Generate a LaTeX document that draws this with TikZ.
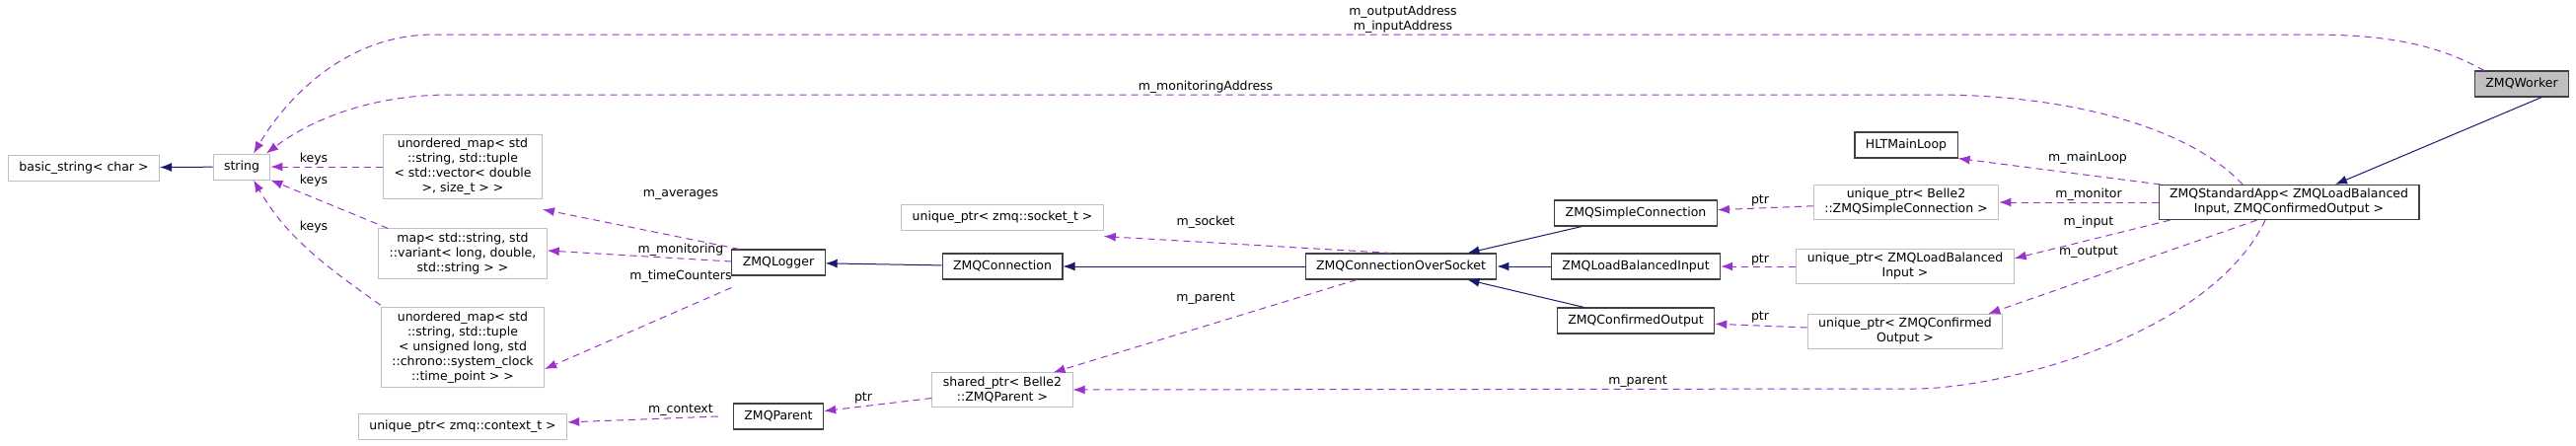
\documentclass[tikz,border=0pt]{standalone}
\usepackage{fontspec}
\setmainfont{DejaVu Sans}
\usetikzlibrary{arrows.meta, positioning}
\definecolor{inhcol}{HTML}{191970}
\definecolor{usecol}{HTML}{9A32CD}
\definecolor{extcol}{HTML}{BFBFBF}
\tikzset{
	x=1pt, y=-1pt,
	every node/.style={font=\fontsize{12.5}{15}\selectfont, inner xsep=11pt, inner ysep=4pt, minimum height=26pt, align=center},
	cls/.style={draw=black!75, line width=1.1pt, fill=white}, % documented classes
	ext/.style={draw=extcol, line width=1pt, fill=white}, % external types
	focus/.style={cls, fill=extcol}, % the class of the diagram
	lbl/.style={inner sep=0pt, minimum height=0pt}, % edge labels
	inh/.style={draw=inhcol, line width=1pt, -{Latex[length=12pt,width=9pt]}},
	use/.style={draw=usecol, line width=1pt, dash pattern=on 7pt off 5pt, -{Latex[length=12pt,width=9pt]}},
}
\begin{document}
\begin{tikzpicture}
	\useasboundingbox (0,0) rectangle (2611,451);

	% left column
	\node[ext] (bstr) at (85,170) {basic\_string< char >};
	\node[ext] (str) at (245,169) {string};
	\node[ext] (avg) at (469,169) {unordered\_map< std\\::string, std::tuple\\< std::vector< double\\>, size\_t > >};
	\node[ext] (mon) at (469,257) {map< std::string, std\\::variant< long, double,\\std::string > >};
	\node[ext] (tc) at (469,352) {unordered\_map< std\\::string, std::tuple\\< unsigned long, std\\::chrono::system\_clock\\::time\_point > >};
	\node[ext] (ctx) at (469,432) {unique\_ptr< zmq::context\_t >};

	% middle
	\node[cls] (logger) at (789,266) {ZMQLogger};
	\node[cls] (parent) at (789,422) {ZMQParent};
	\node[ext] (sock) at (1016,220) {unique\_ptr< zmq::socket\_t >};
	\node[cls] (conn) at (1016,270) {ZMQConnection};
	\node[ext] (shptr) at (1016,395) {shared\_ptr< Belle2\\::ZMQParent >};
	\node[cls] (cos) at (1420,270) {ZMQConnectionOverSocket};

	% right
	\node[cls] (simple) at (1658,216) {ZMQSimpleConnection};
	\node[cls] (lbin) at (1658,270) {ZMQLoadBalancedInput};
	\node[cls] (cout) at (1658,325) {ZMQConfirmedOutput};
	\node[cls] (loop) at (1932,147) {HLTMainLoop};
	\node[ext] (usimple) at (1932,205) {unique\_ptr< Belle2\\::ZMQSimpleConnection >};
	\node[ext] (ulbin) at (1931,270) {unique\_ptr< ZMQLoadBalanced\\Input >};
	\node[ext] (ucout) at (1931,336) {unique\_ptr< ZMQConfirmed\\Output >};
	\node[cls] (app) at (2320,205) {ZMQStandardApp< ZMQLoadBalanced\\Input, ZMQConfirmedOutput >};
	\node[focus] (worker) at (2556,85) {ZMQWorker};

	% inheritance
	\draw[inh] (str) -- (bstr);
	\draw[inh] (conn) -- (logger);
	\draw[inh] (cos) -- (conn);
	\draw[inh] (simple.south west)+(28,0) -- ([xshift=-30pt]cos.north east);
	\draw[inh] (lbin) -- (cos);
	\draw[inh] ([xshift=28pt]cout.north west) -- ([xshift=-30pt]cos.south east);
	\draw[inh] ([xshift=-28pt]worker.south east) -- ([xshift=47pt]app.north);

	% usage
	\draw[use] (avg) -- (str);
	\draw[use] ([xshift=10pt]mon.north west) -- (str.south east);
	\draw[use] ([yshift=2pt]tc.north west) .. controls (330,270) and (290,240) .. ([xshift=12pt]str.south);
	\draw[use] ([xshift=8pt]logger.north west) -- ([yshift=-10pt]avg.south east);
	\draw[use] ([yshift=1pt]logger.west) -- ([yshift=3pt]mon.east);
	\draw[use] ([yshift=-12pt]logger.south west) -- ([yshift=-22pt]tc.east);
	\draw[use] ([xshift=-15pt]parent.west) -- (ctx);
	\draw[use] (shptr) -- (parent);
	\draw[use] ([xshift=-10pt]cos.north) -- ([yshift=-6pt]sock.south east);
	\draw[use] ([xshift=-45pt]cos.south) -- ([xshift=-20pt]shptr.north east);
	\draw[use] (usimple) -- (simple);
	\draw[use] (ulbin) -- (lbin);
	\draw[use] (ucout) -- (cout);
	\draw[use] ([xshift=2pt]app.north west) -- (loop.south east);
	\draw[use] (app) -- (usimple);
	\draw[use] ([xshift=12pt]app.south west) -- ([yshift=-10pt]ulbin.north east);
	\draw[use] ([xshift=100pt]app.south west) -- ([xshift=-15pt]ucout.north east);
	\draw[use] ([xshift=-24pt]app.south) .. controls (2240,340) and (2030,394) .. (1940,394) -- (shptr.east);
	\draw[use] ([xshift=-47pt]app.north) .. controls (2220,130) and (2100,96) .. (1960,96) -- (457,96) .. controls (370,96) and (310,125) .. ([xshift=25pt]str.north);
	\draw[use] ([xshift=10pt]worker.north west) .. controls (2470,45) and (2420,35) .. (2340,35) -- (440,35) .. controls (350,35) and (290,100) .. ([xshift=12pt]str.north);

	% labels
	\node[lbl] (k1) at (318,161) {keys};
	\node[lbl] (k2) at (318,183) {keys};
	\node[lbl] (k3) at (318,230) {keys};
	\node[lbl] (lavg) at (690,197) {m\_averages};
	\node[lbl] (lmon) at (690,253) {m\_monitoring};
	\node[lbl] (ltc) at (690,280) {m\_timeCounters};
	\node[lbl] (lctx) at (690,416) {m\_context};
	\node[lbl] (lptr) at (875,403) {ptr};
	\node[lbl] (lsock) at (1222,225) {m\_socket};
	\node[lbl] (lpar) at (1222,303) {m\_parent};
	\node[lbl] (lp1) at (1784,203) {ptr};
	\node[lbl] (lp2) at (1784,263) {ptr};
	\node[lbl] (lp3) at (1784,321) {ptr};
	\node[lbl] (lloop) at (2116,160) {m\_mainLoop};
	\node[lbl] (lmoni) at (2117,197) {m\_monitor};
	\node[lbl] (lin) at (2117,225) {m\_input};
	\node[lbl] (lout) at (2117,256) {m\_output};
	\node[lbl] (lpar2) at (1660,387) {m\_parent};
	\node[lbl] (lmaddr) at (1222,88) {m\_monitoringAddress};
	\node[lbl] (laddr) at (1422,20) {m\_outputAddress\\m\_inputAddress};
\end{tikzpicture}
\end{document}
